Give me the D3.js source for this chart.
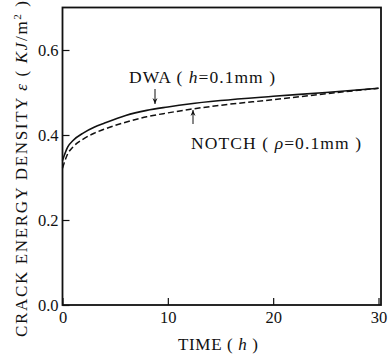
<!DOCTYPE html>
<html><head><meta charset="utf-8">
<script src="https://cdn.jsdelivr.net/npm/d3@7"></script>
<style>body{margin:0;background:#fff}svg{display:block}</style>
</head><body><svg id="c" width="391" height="356" font-family="Liberation Serif"></svg>
<script>
const time = [0, 0.5, 1, 2, 3, 4, 6, 8, 10, 12, 15, 20, 25, 30];
const dwa = [0.340, 0.372, 0.387, 0.405, 0.418, 0.428, 0.446, 0.458, 0.466, 0.473, 0.481, 0.491, 0.500, 0.510];
const notch = [0.322, 0.356, 0.372, 0.391, 0.404, 0.414, 0.430, 0.443, 0.452, 0.460, 0.470, 0.483, 0.497, 0.510];
const xTicks = [0, 10, 20, 30];
const yTicks = [0.0, 0.2, 0.4, 0.6];

const FONT = "Liberation Serif";
const svg = d3.select("#c");
const x = d3.scaleLinear().domain([0, 30]).range([62.5, 378.5]);
const y = d3.scaleLinear().domain([0, 0.7]).range([305, 7.5]);

// frame
svg.append("rect").attr("x", 62.5).attr("y", 7.5).attr("width", 318.5).attr("height", 297.5)
  .attr("fill", "none").attr("stroke", "#111").attr("stroke-width", 1.8);

const xa = svg.append("g").attr("transform", "translate(0,305)")
  .call(d3.axisBottom(x).tickValues(xTicks).tickSize(-7).tickPadding(6).tickFormat(d3.format("d")));
const ya = svg.append("g").attr("transform", "translate(62.5,0)")
  .call(d3.axisLeft(y).tickValues(yTicks).tickSize(-7).tickPadding(4).tickFormat(d3.format(".1f")));
[xa, ya].forEach(a => {
  a.attr("font-family", FONT).attr("font-size", 16.5);
  a.select(".domain").remove();
  a.selectAll("line").attr("stroke", "#111").attr("stroke-width", 1.2);
  a.selectAll("text").attr("font-family", FONT).attr("font-size", 16.5).attr("fill", "#111");
});
xa.selectAll("text").attr("dy", "0.75em");

const line = d3.line().x((d, i) => x(time[i])).y(d => y(d)).curve(d3.curveMonotoneX);
svg.append("path").datum(dwa).attr("d", line).attr("fill", "none").attr("stroke", "#111").attr("stroke-width", 1.6);
svg.append("path").datum(notch).attr("d", line).attr("fill", "none").attr("stroke", "#111").attr("stroke-width", 1.5).attr("stroke-dasharray", "6,3");

function txt(xp, yp, size) {
  return svg.append("text").attr("x", xp).attr("y", yp).attr("font-size", size).attr("font-family", FONT).attr("fill", "#111");
}
// annotations
const t1 = txt(129, 83, 17.5).attr("textLength", 146).attr("lengthAdjust", "spacing");
t1.append("tspan").text("DWA ( ");
t1.append("tspan").attr("font-style", "italic").text("h");
t1.append("tspan").text("=0.1mm )");
const t2 = txt(191, 149, 17.5).attr("textLength", 170).attr("lengthAdjust", "spacing");
t2.append("tspan").text("NOTCH ( ");
t2.append("tspan").attr("font-style", "italic").text("ρ");
t2.append("tspan").text("=0.1mm )");

function arrow(x0, y0, y1) {
  svg.append("line").attr("x1", x0).attr("x2", x0).attr("y1", y0).attr("y2", y1).attr("stroke", "#111").attr("stroke-width", 1);
  const s = y1 > y0 ? -1 : 1;
  svg.append("path").attr("d", `M${x0},${y1} L${x0 - 2.5},${y1 + s * 6} L${x0},${y1 + s * 4} L${x0 + 2.5},${y1 + s * 6} Z`).attr("fill", "#111");
}
arrow(155, 89, 104);
arrow(193, 124, 110);

// axis titles
const xt = txt(178, 350, 17).attr("textLength", 80).attr("lengthAdjust", "spacing");
xt.append("tspan").text("TIME ( ");
xt.append("tspan").attr("font-style", "italic").text("h");
xt.append("tspan").text(" )");

const yt = svg.append("text").attr("transform", "translate(27,337) rotate(-90)")
  .attr("font-size", 17).attr("font-family", FONT).attr("fill", "#111")
  .attr("textLength", 336).attr("lengthAdjust", "spacing");
yt.append("tspan").text("CRACK ENERGY DENSITY ");
yt.append("tspan").attr("font-style", "italic").text("ε");
yt.append("tspan").text(" ( ");
yt.append("tspan").attr("font-style", "italic").text("KJ");
yt.append("tspan").text("/m");
yt.append("tspan").attr("font-size", 11).attr("dy", -6).text("2");
yt.append("tspan").attr("dy", 6).text(" )");
</script></body></html>
